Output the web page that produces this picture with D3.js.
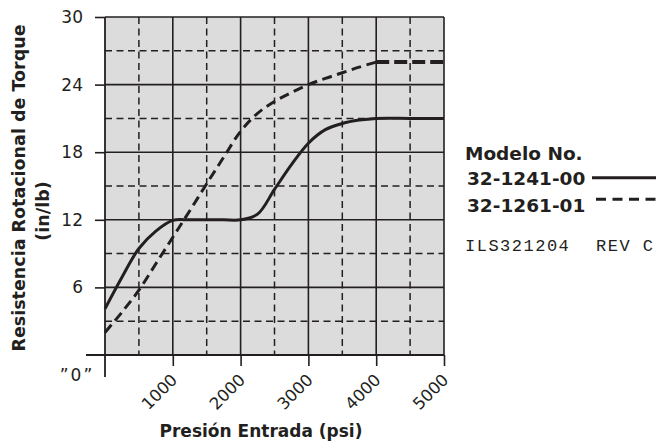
<!DOCTYPE html>
<html><head><meta charset="utf-8">
<script src="https://cdn.jsdelivr.net/npm/d3@7"></script>
<style>body{margin:0;background:#fff}svg{display:block}</style>
</head><body>
<svg id="c" width="666" height="441"></svg>
<script>
const xTicks = [1000, 2000, 3000, 4000, 5000];
const yTicks = [6, 12, 18, 24, 30];
const xMinor = [500, 1500, 2500, 3500, 4500];
const yMinor = [3, 9, 15, 21, 27];
const series1Name = "32-1241-00";
const series2Name = "32-1261-01";
const psi = [0, 250, 500, 750, 1000, 1250, 1500, 1750, 2000, 2250, 2500, 2750, 3000, 3250, 3500, 3750, 4000, 4500, 5000];
const torque1 = [4.1, 6.9, 9.45, 11.0, 11.95, 12, 12, 12, 12, 12.5, 14.7, 16.9, 18.8, 20.0, 20.55, 20.85, 21, 21, 21];
const torque2 = [2, 3.8, 5.75, 8.1, 10.45, 12.8, 15.2, 17.55, 19.85, 21.45, 22.5, 23.3, 24, 24.55, 25.05, 25.55, 26, 26, 26];

const ink = "#231f20";
const svg = d3.select("#c");
const L = 105, R = 444, T = 17, B = 355;
const x = d3.scaleLinear().domain([0, 5000]).range([L, R]);
const y = d3.scaleLinear().domain([0, 30]).range([B, T]);

svg.append("rect").attr("x", L).attr("y", T).attr("width", R - L).attr("height", B - T).attr("fill", "#dcdcdd");

const g = svg.append("g");
g.selectAll(".vm").data(xMinor).join("line")
  .attr("x1", d => x(d)).attr("x2", d => x(d)).attr("y1", T).attr("y2", B)
  .attr("stroke", ink).attr("stroke-width", 1.5).attr("stroke-dasharray", "7,4.5");
g.selectAll(".hm").data(yMinor).join("line")
  .attr("y1", d => y(d)).attr("y2", d => y(d)).attr("x1", L).attr("x2", R)
  .attr("stroke", ink).attr("stroke-width", 1.5).attr("stroke-dasharray", "7,4.5");
g.selectAll(".vM").data(xTicks).join("line")
  .attr("x1", d => x(d)).attr("x2", d => x(d)).attr("y1", T).attr("y2", B)
  .attr("stroke", ink).attr("stroke-width", 1.6);
g.selectAll(".hM").data(yTicks).join("line")
  .attr("y1", d => y(d)).attr("y2", d => y(d)).attr("x1", L).attr("x2", R)
  .attr("stroke", ink).attr("stroke-width", 1.6);

const yAxis = d3.axisLeft(y).tickValues(yTicks).tickSize(10).tickPadding(12).tickFormat(d3.format("d"));
const ya = svg.append("g").attr("transform", `translate(${L},0)`).call(yAxis);
ya.select(".domain").remove();
ya.selectAll("line").attr("stroke", ink).attr("stroke-width", 1.6);
ya.selectAll("text").attr("font-family", "DejaVu Sans").attr("font-size", 17).attr("fill", ink);

const xAxis = d3.axisBottom(x).tickValues(xTicks).tickSize(11).tickFormat(d3.format("d"));
const xa = svg.append("g").attr("transform", `translate(0,${B})`).call(xAxis);
xa.select(".domain").remove();
xa.selectAll("line").attr("stroke", ink).attr("stroke-width", 1.6);
xa.selectAll("text").attr("font-family", "DejaVu Sans").attr("font-size", 16.5).attr("fill", ink)
  .attr("text-anchor", "end").attr("dy", null).attr("y", 0)
  .attr("transform", "translate(5,26) rotate(-45)");

svg.append("line").attr("x1", 86).attr("x2", R).attr("y1", B).attr("y2", B).attr("stroke", ink).attr("stroke-width", 1.8);
svg.append("line").attr("x1", L).attr("x2", L).attr("y1", T).attr("y2", 377).attr("stroke", ink).attr("stroke-width", 1.8);
svg.append("text").attr("x", 77).attr("y", 381).attr("text-anchor", "middle").attr("letter-spacing", 2)
  .attr("font-family", "DejaVu Sans").attr("font-size", 17).attr("fill", ink).text("\u201D0\u201D");

const line = d3.line().x(d => x(d[0])).y(d => y(d[1])).curve(d3.curveCatmullRom.alpha(0.5));
const s1 = psi.map((p, i) => [p, torque1[i]]);
const s2 = psi.map((p, i) => [p, torque2[i]]);
svg.append("path").datum(s1).attr("d", line)
  .attr("fill", "none").attr("stroke", ink).attr("stroke-width", 3);
svg.append("path").datum(s2.filter(d => d[0] <= 4000)).attr("d", line)
  .attr("fill", "none").attr("stroke", ink).attr("stroke-width", 3).attr("stroke-dasharray", "10,5.5");
svg.append("path").datum(s2.filter(d => d[0] >= 4000)).attr("d", d3.line().x(d => x(d[0])).y(d => y(d[1])))
  .attr("fill", "none").attr("stroke", ink).attr("stroke-width", 4).attr("stroke-dasharray", "13,5");

svg.append("text").attr("x", 261).attr("y", 437).attr("text-anchor", "middle")
  .attr("font-family", "DejaVu Sans").attr("font-weight", "bold").attr("font-size", 17).attr("fill", ink)
  .text("Presión Entrada (psi)");
svg.append("text").attr("transform", "translate(25,188) rotate(-90)").attr("text-anchor", "middle")
  .attr("font-family", "DejaVu Sans").attr("font-weight", "bold").attr("font-size", 17.5).attr("fill", ink)
  .text("Resistencia Rotacional de Torque");
svg.append("text").attr("transform", "translate(49,211) rotate(-90)").attr("text-anchor", "middle")
  .attr("font-family", "DejaVu Sans").attr("font-weight", "bold").attr("font-size", 17.5).attr("fill", ink)
  .text("(in/lb)");

const lg = svg.append("g").attr("font-family", "DejaVu Sans").attr("font-weight", "bold").attr("fill", ink);
lg.append("text").attr("x", 465).attr("y", 160).attr("font-size", 18.5).text("Modelo No.");
lg.append("text").attr("x", 467).attr("y", 185).attr("font-size", 18.5).text(series1Name);
lg.append("text").attr("x", 467).attr("y", 212).attr("font-size", 18.5).text(series2Name);
svg.append("line").attr("x1", 592).attr("x2", 656).attr("y1", 177.7).attr("y2", 177.7).attr("stroke", ink).attr("stroke-width", 3);
svg.append("line").attr("x1", 596).attr("x2", 656).attr("y1", 199.3).attr("y2", 199.3).attr("stroke", ink).attr("stroke-width", 3).attr("stroke-dasharray", "10,6.5");
svg.append("text").attr("x", 465).attr("y", 251).attr("font-family", "Liberation Mono").attr("font-size", 17).attr("fill", ink).attr("letter-spacing", 1.5).text("ILS321204");
svg.append("text").attr("x", 596).attr("y", 251).attr("font-family", "Liberation Mono").attr("font-size", 17).attr("fill", ink).attr("letter-spacing", 1.5).text("REV C");
</script>
</body></html>
